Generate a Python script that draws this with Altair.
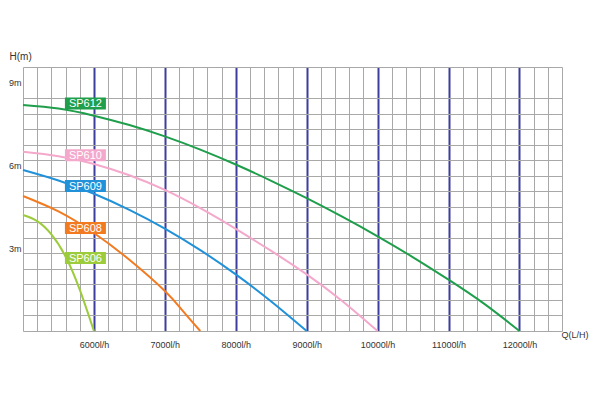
import altair as alt
import pandas as pd

# ---- data ----
series = ["SP612", "SP610", "SP609", "SP608", "SP606"]
colors = ["#1f9e4b", "#f4a8cb", "#2191d9", "#f27b22", "#9ccb3b"]

q612 = [5000, 5500, 6000, 6500, 7000, 7500, 8000, 8500, 9000, 9500, 10000, 10500, 11000, 11500, 12000]
h612 = [8.19, 8.06, 7.80, 7.46, 7.05, 6.57, 6.03, 5.44, 4.81, 4.14, 3.43, 2.67, 1.86, 0.99, 0.0]

q610 = [5000, 5500, 6000, 6500, 7000, 7500, 8000, 8500, 9000, 9500, 10000]
h610 = [6.49, 6.33, 6.05, 5.64, 5.11, 4.45, 3.70, 2.90, 2.05, 1.09, 0.0]

q609 = [5000, 5500, 6000, 6500, 7000, 7500, 8000, 8500, 9000]
h609 = [5.83, 5.45, 4.97, 4.39, 3.71, 2.93, 2.05, 1.07, 0.0]

q608 = [5000, 5500, 6000, 6500, 7000, 7250, 7500]
h608 = [4.89, 4.33, 3.55, 2.58, 1.45, 0.74, 0.0]

q606 = [5000, 5200, 5400, 5600, 5800, 6000]
h606 = [4.20, 3.98, 3.50, 2.70, 1.50, 0.0]

label_q = [5880, 5880, 5880, 5880, 5880]
label_h = [8.24, 6.37, 5.25, 3.73, 2.64]

x_ticks = list(range(5000, 12601, 200))
y_ticks = [round(i * 0.5625, 4) for i in range(18)] + [3, 6, 9]

# ---- tables ----
rows = []
for name, qs, hs in zip(series, [q612, q610, q609, q608, q606], [h612, h610, h609, h608, h606]):
    for q, h in zip(qs, hs):
        rows.append({"series": name, "q": q, "h": h})
curves = pd.DataFrame(rows)
labels = pd.DataFrame({"series": series, "q": label_q, "h": label_h})

x_scale = alt.Scale(domain=[5000, 12600], nice=False, zero=False)
y_scale = alt.Scale(domain=[0, 9.5625], nice=False, zero=True)
color_scale = alt.Scale(domain=series, range=colors)

major = "datum.value % 1000 === 0 && datum.value >= 6000 && datum.value <= 12000"
ylab = "datum.value === 3 || datum.value === 6 || datum.value === 9"

x_axis = alt.Axis(
    values=x_ticks, tickCount=200, grid=True,
    gridColor={"condition": {"test": major, "value": "#3d3d9e"}, "value": "#a8a8a8"},
    gridWidth={"condition": {"test": major, "value": 2}, "value": 1},
    ticks=False, tickSize=0, domain=False,
    labelExpr=f"({major}) ? datum.value + 'l/h' : ''",
    labelFontSize=9, labelColor="#333333", labelFont="Liberation Sans",
    labelPadding=9, labelOverlap=False, labelFlush=False,
    title="Q(L/H)", titleX=538, titleY=3, titleAlign="left", titleBaseline="middle",
    titleFontWeight="normal", titleFontSize=9, titleFont="Liberation Sans", titleColor="#333333",
)
y_axis = alt.Axis(
    values=y_ticks, tickCount=200, grid=True,
    gridColor={"condition": {"test": ylab, "value": "transparent"}, "value": "#a8a8a8"},
    gridWidth=1,
    ticks=False, tickSize=0, domain=False,
    labelExpr=f"({ylab}) ? datum.value + 'm' : ''",
    labelFontSize=9, labelColor="#333333", labelFont="Liberation Sans",
    labelPadding=2, labelOverlap=False, labelFlush=False,
    title="H(m)", titleAngle=0, titleX=-14, titleY=-8, titleAlign="left", titleBaseline="alphabetic",
    titleFontWeight="normal", titleFontSize=10, titleFont="Liberation Sans", titleColor="#333333",
)

lines = alt.Chart(curves).mark_line(strokeWidth=2, interpolate="natural").encode(
    x=alt.X("q:Q", scale=x_scale, axis=x_axis),
    y=alt.Y("h:Q", scale=y_scale, axis=y_axis),
    color=alt.Color("series:N", scale=color_scale, legend=None),
    detail="series:N",
    order="q:Q",
)

boxes = alt.Chart(labels).mark_rect(width=41, height=12).encode(
    x=alt.X("q:Q", scale=x_scale),
    y=alt.Y("h:Q", scale=y_scale),
    color=alt.Color("series:N", scale=color_scale, legend=None),
)

texts = alt.Chart(labels).mark_text(color="white", fontSize=11, font="Liberation Sans", baseline="middle", align="center", dy=0.5).encode(
    x=alt.X("q:Q", scale=x_scale),
    y=alt.Y("h:Q", scale=y_scale),
    text="series:N",
)

chart = alt.layer(lines, boxes, texts).properties(
    width=539, height=264,
    padding={"left": 15, "top": 59, "right": 30, "bottom": 55},
    autosize=alt.AutoSizeParams(type="none"),
    background="white",
).configure_view(stroke=None)

chart.save("out.html", embed_options={"renderer": "svg", "actions": False})
